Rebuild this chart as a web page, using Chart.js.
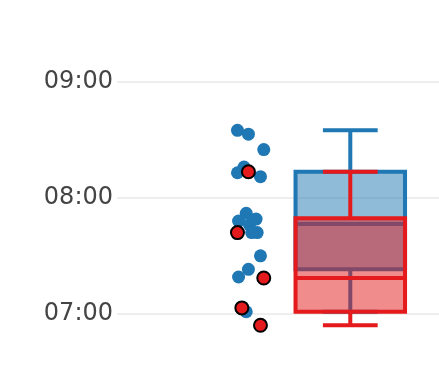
<!DOCTYPE html>
<html>
<head>
<meta charset="utf-8">
<script src="https://cdn.jsdelivr.net/npm/chart.js@4.4.1/dist/chart.umd.min.js"></script>
<style>
  html, body { margin: 0; padding: 0; background: #fff; }
  #wrap { width: 439px; height: 372px; }
</style>
</head>
<body>
<div id="wrap"><canvas id="chart"></canvas></div>
<script>
// tick labels on the time axis
const yTicks = ['07:00', '08:00', '09:00'];

// box statistics: [lower whisker, Q1, median, Q3, upper whisker]
const blueBox = ['07:01', '07:23', '07:46.5', '08:13.5', '08:35'];
const redBox = ['06:54', '07:01', '07:18.5', '07:49.5', '08:13.5'];

// single observations and their horizontal jitter (in box widths from the box centre)
const bluePoints = ['08:35', '08:33', '08:25', '08:16', '08:13', '08:11', '07:52', '07:49',
  '07:48', '07:46', '07:42', '07:42', '07:30', '07:23', '07:19', '07:01'];
const blueJitter = [-1.03, -0.93, -0.79, -0.97, -1.03, -0.82, -0.95, -0.86,
  -1.02, -0.92, -0.85, -0.90, -0.82, -0.93, -1.02, -0.95];
const redPoints = ['08:13.5', '07:42', '07:18.5', '07:03', '06:54'];
const redJitter = [-0.93, -1.03, -0.79, -0.99, -0.82];

const BLUE = '#1f77b4';
const BLUE_FILL = 'rgba(31, 119, 180, 0.5)';
const RED = '#e41a1c';
const RED_FILL = 'rgba(228, 26, 28, 0.5)';

const HALF = 0.5;   // half box width
const CAP = 0.25;   // half whisker cap width

function toMin(t) {
  const [h, m] = t.split(':');
  return Number(h) * 60 + parseFloat(m);
}

function fmt(v) {
  const h = Math.floor(v / 60);
  const m = Math.round(v - h * 60);
  return String(h).padStart(2, '0') + ':' + String(m).padStart(2, '0');
}

// closed outline of the box (starts mid-bottom so the seam is flat)
function boxOutline(stats) {
  const [, q1, , q3] = stats.map(toMin);
  return [
    { x: 0, y: q1 }, { x: -HALF, y: q1 }, { x: -HALF, y: q3 },
    { x: HALF, y: q3 }, { x: HALF, y: q1 }, { x: 0, y: q1 }
  ];
}

// median, whiskers and caps, broken with gaps
function boxLines(stats) {
  const [lo, q1, med, q3, hi] = stats.map(toMin);
  const gap = { x: 0, y: null };
  return [
    { x: -HALF, y: med }, { x: HALF, y: med }, gap,
    { x: 0, y: q3 }, { x: 0, y: hi }, gap,
    { x: -CAP, y: hi }, { x: CAP, y: hi }, gap,
    { x: 0, y: q1 }, { x: 0, y: lo }, gap,
    { x: -CAP, y: lo }, { x: CAP, y: lo }
  ];
}

function points(times, jitter) {
  return times.map((t, i) => ({ x: jitter[i], y: toMin(t) }));
}

const lineDefaults = {
  showLine: true,
  pointRadius: 0,
  pointHoverRadius: 0,
  borderWidth: 4,
  borderJoinStyle: 'miter',
  borderCapStyle: 'butt',
  tension: 0,
  spanGaps: false
};

const ctx = document.getElementById('chart').getContext('2d');
new Chart(ctx, {
  type: 'scatter',
  data: {
    datasets: [
      { ...lineDefaults, data: boxOutline(blueBox), borderColor: BLUE, backgroundColor: BLUE_FILL, fill: 'shape', order: 6 },
      { ...lineDefaults, data: boxLines(blueBox), borderColor: BLUE, fill: false, order: 5 },
      { ...lineDefaults, data: boxOutline(redBox), borderColor: RED, backgroundColor: RED_FILL, fill: 'shape', order: 4 },
      { ...lineDefaults, data: boxLines(redBox), borderColor: RED, fill: false, order: 3 },
      {
        data: points(bluePoints, blueJitter),
        backgroundColor: BLUE,
        borderWidth: 0,
        pointRadius: 6.5,
        order: 2
      },
      {
        data: points(redPoints, redJitter),
        backgroundColor: RED,
        borderColor: '#000',
        borderWidth: 2,
        pointRadius: 6.5,
        order: 1
      }
    ]
  },
  options: {
    responsive: true,
    maintainAspectRatio: false,
    animation: false,
    layout: {
      autoPadding: false,
      padding: { left: 43, right: 0, top: 0, bottom: 0 }
    },
    plugins: {
      legend: { display: false },
      tooltip: { enabled: false }
    },
    scales: {
      x: {
        type: 'linear',
        display: false,
        min: -2.13,
        max: 0.81
      },
      y: {
        type: 'linear',
        min: 389.8,
        max: 582.5,
        border: { display: false },
        grid: { color: '#eeeeee', lineWidth: 2, drawTicks: false },
        ticks: {
          padding: 4,
          color: '#444',
          font: { family: 'DejaVu Sans', size: 24 },
          callback: (v) => fmt(v)
        },
        afterBuildTicks: (scale) => {
          scale.ticks = yTicks.map(t => ({ value: toMin(t) }));
        },
        afterFit: (scale) => {
          scale.width = 74;
          scale.paddingTop = 0;
          scale.paddingBottom = 0;
        }
      }
    }
  }
});
</script>
</body>
</html>
